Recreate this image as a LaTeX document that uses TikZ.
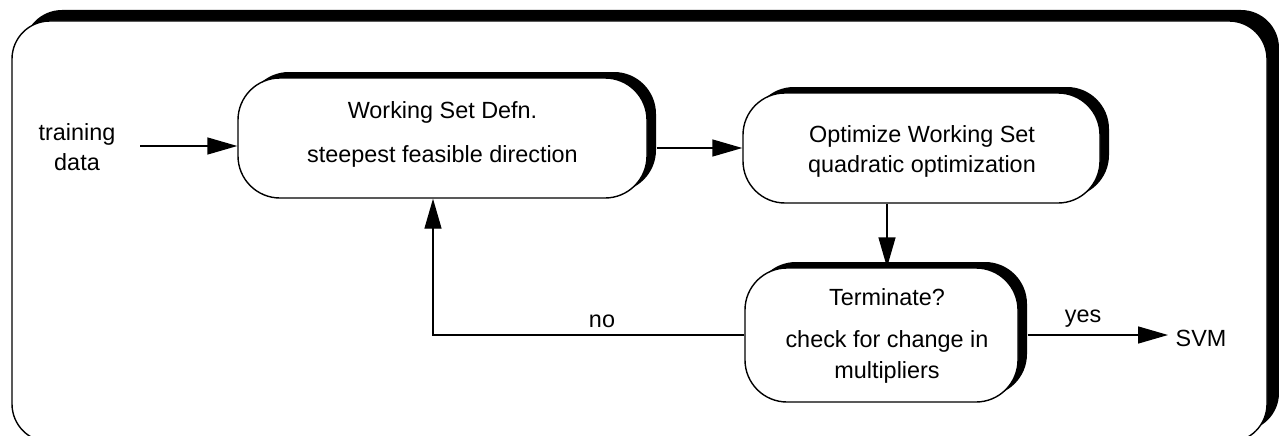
\documentclass[tikz,border=0pt]{standalone}
\usepackage{fontspec}
\setmainfont{Liberation Sans}
\usetikzlibrary{arrows.meta,shadows}
\begin{document}
\begin{tikzpicture}[x=1pt,y=-1pt,
  line width=1.4pt,
  lbl/.style={inner sep=0pt, anchor=base, font=\fontsize{23.4}{28}\selectfont},
  stepbox/.style={draw, fill=white, rounded corners=42pt, inner sep=0pt,
    drop shadow={shadow xshift=9pt, shadow yshift=6pt, fill=black, opacity=1}},
  arr/.style={-{Triangle[length=30pt,width=17pt]}}
]
\useasboundingbox (0,0) rectangle (1279,436);
\clip (0,0) rectangle (1279,436);
% outer frame with shadow
\fill[black, rounded corners=38pt] (24,10) rectangle (1279,431);
\draw[fill=white, rounded corners=38pt] (12,21) rectangle (1267,442);

% boxes
\node[stepbox, minimum width=409pt, minimum height=120pt] (ws) at (442.5,138) {};
\node[stepbox, minimum width=357pt, minimum height=110pt] (opt) at (921.5,148) {};
\node[stepbox, minimum width=273pt, minimum height=134pt] (term) at (881.5,335) {};

% box texts
\node[lbl] (ws1) at (442.5,118) {Working Set Defn.};
\node[lbl] (ws2) at (442.5,162) {steepest feasible direction};
\node[lbl] (opt1) at (922,142) {Optimize Working Set};
\node[lbl] (opt2) at (922,172) {quadratic optimization};
\node[lbl] (term1) at (887,305) {Terminate?};
\node[lbl] (term2) at (887,347) {check for change in};
\node[lbl] (term3) at (887,378) {multipliers};

% free texts
\node[lbl] (td1) at (77,140) {training};
\node[lbl] (td2) at (77,170) {data};
\node[lbl, anchor=base west] (svm) at (1175,346) {SVM};
\node[lbl] (yes) at (1083,322) {yes};
\node[lbl] (no) at (602,327) {no};

% connectors
\coordinate (tdout) at (140,146);
\draw[arr] (tdout) -- (tdout -| ws.west);
\draw[arr] ([xshift=9pt]ws.east |- opt.west) -- (opt.west);
\coordinate (dn) at ([xshift=5.5pt]term.north);
\draw[arr] (opt.south -| dn) -- (dn);
\coordinate (up) at ([xshift=-9.5pt]ws.south);
\draw[arr] (term.west) -| (up);
\coordinate (svmin) at (1168,335);
\draw[arr] ([xshift=9pt]term.east) -- (svmin);
\end{tikzpicture}
\end{document}
